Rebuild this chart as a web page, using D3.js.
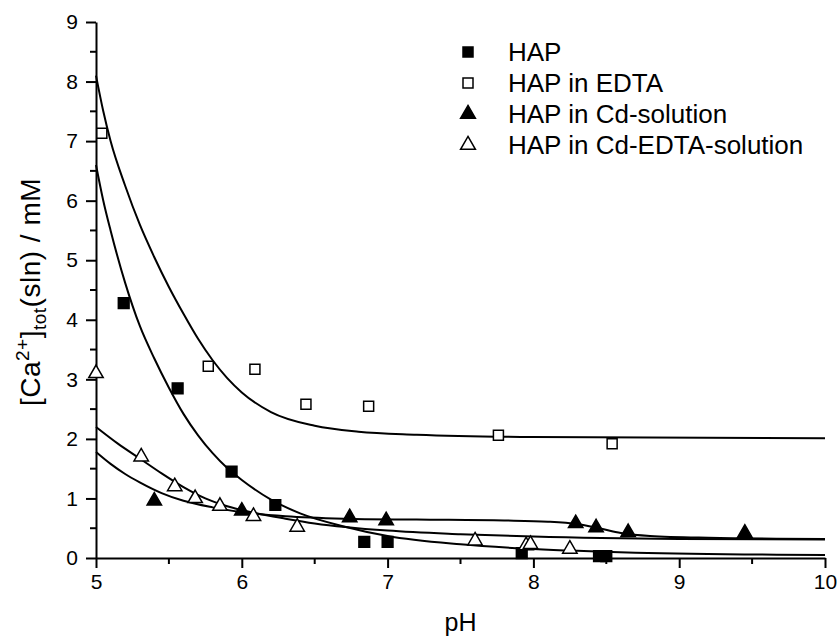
<!DOCTYPE html>
<html>
<head>
<meta charset="utf-8">
<script src="https://cdn.jsdelivr.net/npm/d3@7"></script>
<style>
  body { margin: 0; background: #fff; }
  text { font-family: "Liberation Sans", Arial, sans-serif; }
</style>
</head>
<body>
<div id="chart-area"></div>
<script>

// measured points
var hapX = [5.19, 5.56, 5.93, 6.23, 6.84, 7.00, 7.92, 8.45, 8.50];
var hapY = [4.28, 2.85, 1.45, 0.89, 0.27, 0.27, 0.08, 0.03, 0.03];

var edtaX = [5.04, 5.77, 6.09, 6.44, 6.87, 7.76, 8.54];
var edtaY = [7.13, 3.22, 3.17, 2.58, 2.55, 2.06, 1.92];

var cdX = [5.40, 6.00, 6.74, 6.99, 8.29, 8.43, 8.65, 9.45];
var cdY = [0.96, 0.79, 0.68, 0.63, 0.58, 0.51, 0.43, 0.42];

var cdEdtaX = [5.00, 5.31, 5.54, 5.68, 5.85, 6.08, 6.38, 7.60, 7.95, 7.98, 8.25];
var cdEdtaY = [3.10, 1.70, 1.20, 1.00, 0.87, 0.70, 0.52, 0.29, 0.21, 0.23, 0.15];

// fitted curves
var edtaFitX = [5.0, 5.05, 5.1, 5.2, 5.3, 5.4, 5.5, 5.6, 5.7, 5.8, 5.9, 6.0, 6.2, 6.5, 6.8, 7.2, 8.0, 10];
var edtaFitY = [8.1, 7.5, 7.0, 6.25, 5.6, 5.05, 4.55, 4.1, 3.68, 3.32, 3.02, 2.78, 2.45, 2.22, 2.12, 2.07, 2.03, 2.01];

var hapFitX = [5.0, 5.05, 5.1, 5.2, 5.3, 5.4, 5.5, 5.6, 5.7, 5.8, 5.9, 6.0, 6.2, 6.4, 6.7, 7.0, 7.5, 8.0, 8.7, 10];
var hapFitY = [6.6, 6.0, 5.5, 4.62, 3.9, 3.35, 2.86, 2.42, 2.06, 1.76, 1.51, 1.31, 0.98, 0.75, 0.53, 0.37, 0.23, 0.15, 0.09, 0.05];

var cdEdtaFitX = [5.0, 5.15, 5.3, 5.45, 5.6, 5.75, 5.9, 6.1, 6.3, 6.5, 7.0, 7.5, 8.0, 9.0, 10];
var cdEdtaFitY = [2.2, 1.92, 1.67, 1.42, 1.19, 1.0, 0.87, 0.75, 0.66, 0.58, 0.46, 0.40, 0.36, 0.32, 0.31];

var cdFitX = [5.0, 5.1, 5.2, 5.3, 5.45, 5.6, 5.8, 6.0, 6.3, 6.7, 7.2, 7.8, 8.1, 8.3, 8.45, 8.6, 8.8, 9.2, 10];
var cdFitY = [1.78, 1.58, 1.41, 1.27, 1.09, 0.96, 0.85, 0.77, 0.70, 0.66, 0.645, 0.63, 0.61, 0.57, 0.50, 0.42, 0.37, 0.34, 0.32];

var legendLabels = ["HAP", "HAP in EDTA", "HAP in Cd-solution", "HAP in Cd-EDTA-solution"];

var margin = { left: 96, right: 14, top: 22, bottom: 82 },
    width = 839 - margin.left - margin.right,
    height = 640 - margin.top - margin.bottom;

var svg = d3.select("#chart-area")
    .append("svg")
    .attr("width", 839)
    .attr("height", 640);

var g = svg.append("g")
    .attr("transform", "translate(" + margin.left + "," + margin.top + ")");

var x = d3.scaleLinear().domain([5, 10]).range([0, width]);
var y = d3.scaleLinear().domain([0, 9]).range([height, 0]);

function zip(xs, ys) {
    return xs.map(function(v, i) { return [v, ys[i]]; });
}

// axes
var xAxis = d3.axisBottom(x).tickValues(d3.range(5, 10.01, 1)).tickFormat(d3.format("d"))
    .tickSizeInner(10).tickSizeOuter(0).tickPadding(6);
var yAxis = d3.axisLeft(y).tickValues(d3.range(0, 9.01, 1)).tickFormat(d3.format("d"))
    .tickSizeInner(10).tickSizeOuter(0).tickPadding(8);

var xg = g.append("g").attr("transform", "translate(0," + height + ")").call(xAxis);
var yg = g.append("g").call(yAxis);

// minor ticks
xg.selectAll(".minor").data(d3.range(5.5, 10, 1)).enter().append("line")
    .attr("x1", function(d) { return x(d); }).attr("x2", function(d) { return x(d); })
    .attr("y1", 0).attr("y2", 6).attr("stroke", "#000").attr("stroke-width", 2);
yg.selectAll(".minor").data(d3.range(0.5, 9, 1)).enter().append("line")
    .attr("y1", function(d) { return y(d); }).attr("y2", function(d) { return y(d); })
    .attr("x1", 0).attr("x2", -6).attr("stroke", "#000").attr("stroke-width", 2);

[xg, yg].forEach(function(a) {
    a.attr("font-size", null).attr("font-family", null);
    a.select(".domain").attr("stroke-width", 2);
    a.selectAll(".tick line").attr("stroke-width", 2);
    a.selectAll(".tick text").style("font-size", "21px").attr("fill", "#000");
});

// axis titles
svg.append("text")
    .attr("x", margin.left + width / 2)
    .attr("y", 631)
    .attr("text-anchor", "middle")
    .style("font-size", "25px")
    .text("pH");

var yt = svg.append("text")
    .attr("transform", "translate(40,292) rotate(-90)")
    .attr("text-anchor", "middle")
    .style("font-size", "28px")
    .style("letter-spacing", "0.5px");
yt.append("tspan").text("[Ca");
yt.append("tspan").style("font-size", "19px").attr("dy", -11).text("2+");
yt.append("tspan").attr("dy", 11).text("]");
yt.append("tspan").style("font-size", "19px").attr("dy", 6).text("tot");
yt.append("tspan").attr("dy", -6).text("(sln) / mM");

// fitted curves
var line = d3.line()
    .x(function(d) { return x(d[0]); })
    .y(function(d) { return y(d[1]); })
    .curve(d3.curveMonotoneX);

var fits = [
    zip(edtaFitX, edtaFitY),
    zip(hapFitX, hapFitY),
    zip(cdEdtaFitX, cdEdtaFitY),
    zip(cdFitX, cdFitY)
];

g.selectAll(".fit").data(fits).enter().append("path")
    .attr("class", "fit")
    .attr("d", line)
    .attr("fill", "none")
    .attr("stroke", "#000")
    .attr("stroke-width", 2);

// data points
var series = [
    { pts: zip(hapX, hapY), shape: d3.symbolSquare, fill: "#000", size: 115 },
    { pts: zip(edtaX, edtaY), shape: d3.symbolSquare, fill: "#fff", size: 100 },
    { pts: zip(cdX, cdY), shape: d3.symbolTriangle, fill: "#000", size: 90 },
    { pts: zip(cdEdtaX, cdEdtaY), shape: d3.symbolTriangle, fill: "#fff", size: 90 }
];

series.forEach(function(s) {
    g.selectAll(null).data(s.pts).enter().append("path")
        .attr("d", d3.symbol().type(s.shape).size(s.size))
        .attr("transform", function(d) { return "translate(" + x(d[0]) + "," + y(d[1]) + ")"; })
        .attr("fill", s.fill)
        .attr("stroke", "#000")
        .attr("stroke-width", 1.5);
});

// legend
var legend = svg.append("g").attr("transform", "translate(468,52)");
var row = legend.selectAll(".row").data(legendLabels).enter().append("g")
    .attr("transform", function(d, i) { return "translate(0," + (i * 31) + ")"; });
row.append("path")
    .attr("d", function(d, i) { return d3.symbol().type(series[i].shape).size(series[i].shape === d3.symbolSquare ? 100 : 95)(); })
    .attr("fill", function(d, i) { return series[i].fill; })
    .attr("stroke", "#000")
    .attr("stroke-width", 1.5);
row.append("text")
    .attr("x", 40)
    .attr("dy", "0.36em")
    .style("font-size", "26px")
    .text(function(d) { return d; });

</script>
</body>
</html>
